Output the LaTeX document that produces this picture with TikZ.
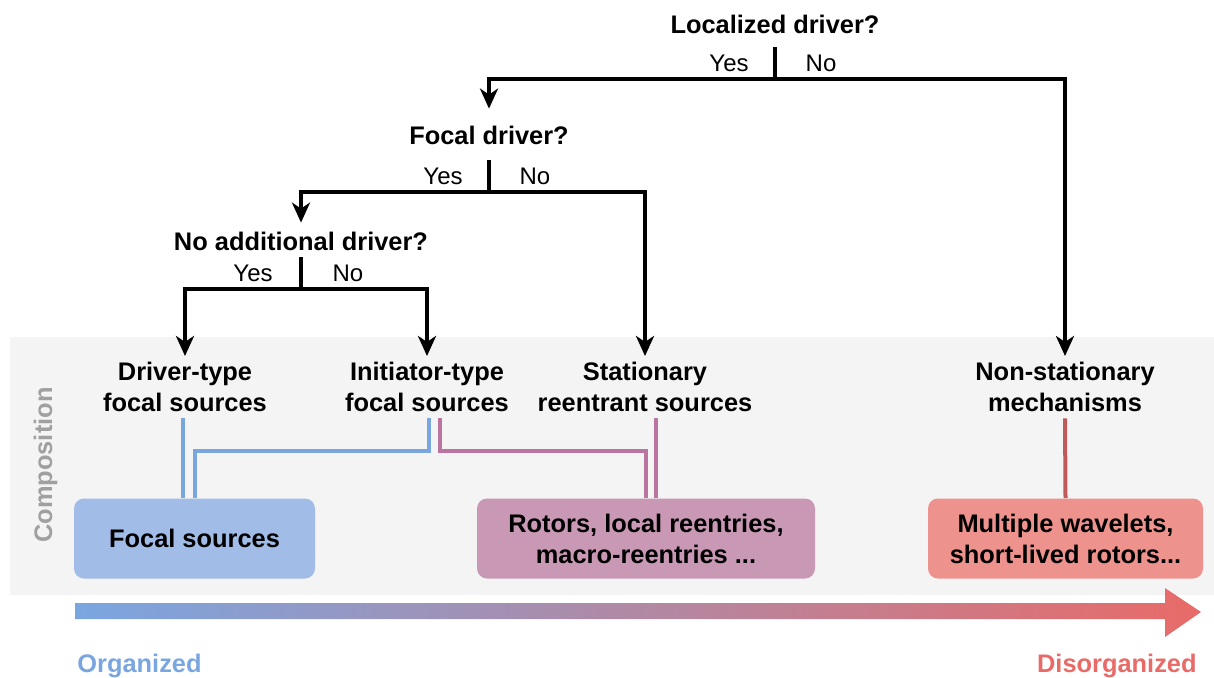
\documentclass[tikz,border=0pt]{standalone}
\usepackage{fontspec}
\setmainfont{Liberation Sans}
\usepackage{xcolor}
\usetikzlibrary{arrows.meta}
\definecolor{panelgray}{HTML}{F4F4F4}
\definecolor{labelgray}{HTML}{A0A0A0}
\definecolor{focalblue}{HTML}{7AA6E0}
\definecolor{focalfill}{HTML}{A1BCE6}
\definecolor{rotorpink}{HTML}{B9759F}
\definecolor{rotorfill}{HTML}{C898B5}
\definecolor{waveletred}{HTML}{C05A5A}
\definecolor{waveletfill}{HTML}{EE928E}
\definecolor{disorgred}{HTML}{E86B68}

\begin{document}
\begin{tikzpicture}[x=0.5pt,y=-0.5pt,>={Stealth[length=10pt,width=9pt,inset=3pt]},
  every node/.style={font=\fontsize{12.7}{15.5}\selectfont\bfseries},
  question/.style={inner sep=0pt,inner ysep=8.5pt,text height=9pt,text depth=0pt},
  answer/.style={font=\fontsize{12}{14}\selectfont\mdseries},
  outcome/.style={align=center,anchor=north,inner sep=0pt,inner ysep=3pt},
  group/.style={rounded corners=5pt,minimum height=40pt,align=center},
  tree/.style={line width=2pt},
  link/.style={line width=2pt}]
  \useasboundingbox (0,0) rectangle (1214,677);
  \fill[panelgray] (10,337) rectangle (1214,595);
  \node[text=labelgray,rotate=90,anchor=base] (comp) at (52,465) {Composition};

  % decision tree
  \node[question] (qloc) at (775,24) {Localized driver?};
  \node[question] (qfocal) at (489,135) {Focal driver?};
  \node[question,inner ysep=4.5pt] (qadd) at (301,241) {No additional driver?};
  \coordinate (jloc) at (775,79);
  \coordinate (jfocal) at (489,192);
  \coordinate (jadd) at (301,289);
  \node[answer] (yloc) at (729,63) {Yes};
  \node[answer] (nloc) at (821,63) {No};
  \node[answer] (yfocal) at (443,176) {Yes};
  \node[answer] (nfocal) at (535,176) {No};
  \node[answer] (yadd) at (253,273) {Yes};
  \node[answer] (nadd) at (348,273) {No};

  % outcomes
  \node[outcome] (ldriver) at (185,356) {Driver-type\\focal sources};
  \node[outcome] (linit) at (427,356) {Initiator-type\\focal sources};
  \node[outcome] (lstat) at (645,356) {Stationary\\reentrant sources};
  \node[outcome] (lnonstat) at (1065,356) {Non-stationary\\mechanisms};

  \draw[tree] (jloc) -- ++(0,-32);
  \draw[tree,->] (jloc) -| (qfocal.north);
  \draw[tree,->] (jloc) -| (lnonstat.north);
  \draw[tree] (jfocal) -- ++(0,-32);
  \draw[tree,->] (jfocal) -| (qadd.north);
  \draw[tree,->] (jfocal) -| (lstat.north);
  \draw[tree] (jadd) -- ++(0,-32);
  \draw[tree,->] (jadd) -| (ldriver.north);
  \draw[tree,->] (jadd) -| (linit.north);

  % composition
  \node[group,fill=focalfill,minimum width=120.5pt] (bfocal) at (194.5,538.5) {Focal sources};
  \node[group,fill=rotorfill,minimum width=169pt] (brot) at (646,538.5) {Rotors, local reentries,\\macro-reentries ...};
  \node[group,fill=waveletfill,minimum width=137.5pt] (bmult) at (1065.5,538.5) {Multiple wavelets,\\short-lived rotors...};

  \draw[link,focalblue] ([xshift=-1pt]ldriver.south) -- ([xshift=-1pt]ldriver.south |- bfocal.north);
  \draw[link,focalblue] ([xshift=1pt]linit.south) -- ++(0,33) -| (bfocal.north);
  \draw[link,rotorpink] ([xshift=6.25pt]linit.south) -- ++(0,33) -| (brot.north);
  \draw[link,rotorpink] ([xshift=5.25pt]lstat.south) -- ([xshift=5.25pt]lstat.south |- brot.north);
  \draw[link,waveletred] (lnonstat.south) -- (bmult.north);

  % organization scale
  \shade[left color=focalblue,right color=disorgred]
    (75,603) -- (1165,603) -- (1165,588) -- (1201,612) -- (1165,637) -- (1165,619) -- (75,619) -- cycle;
  \node[text=focalblue,anchor=base west,inner sep=0pt] (org) at (77,672) {Organized};
  \node[text=disorgred,anchor=base east,inner sep=0pt] (disorg) at (1197,672) {Disorganized};
\end{tikzpicture}
\end{document}
